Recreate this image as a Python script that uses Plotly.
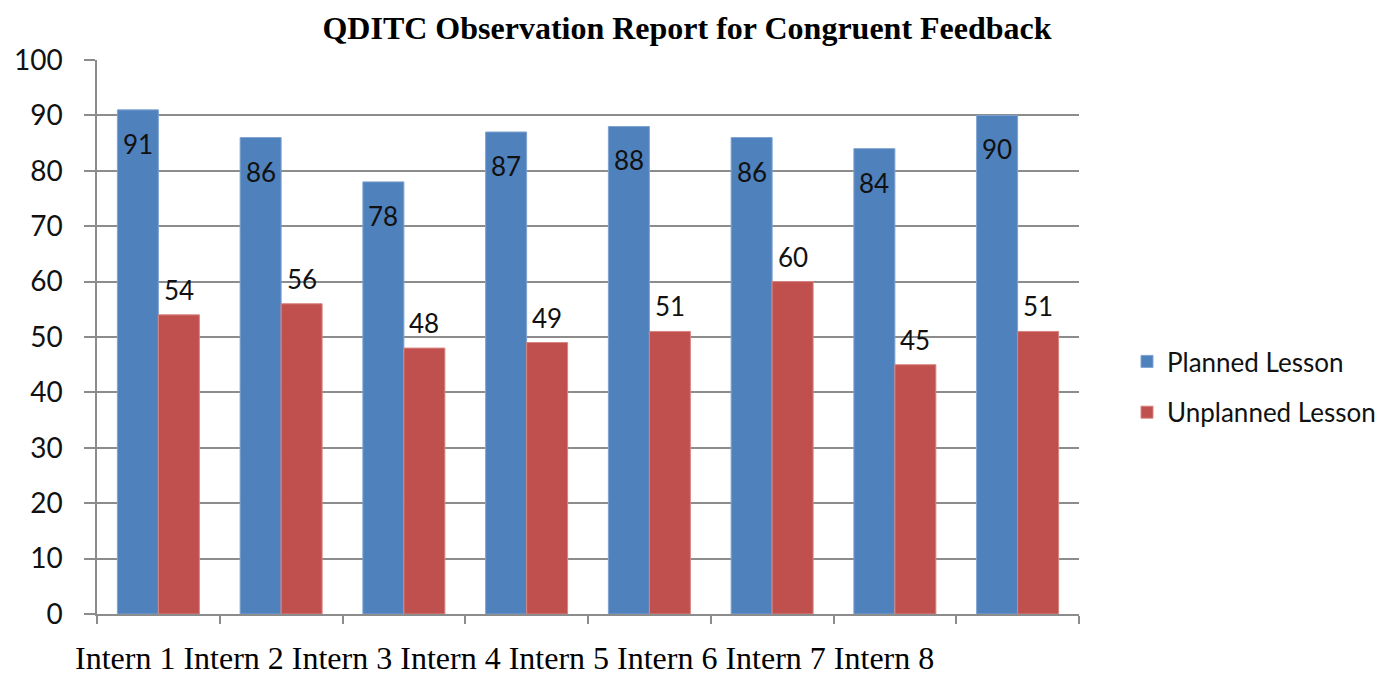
import plotly.graph_objects as go

categories = ["Intern 1", "Intern 2", "Intern 3", "Intern 4", "Intern 5", "Intern 6", "Intern 7", "Intern 8"]
planned = [91, 86, 78, 87, 88, 86, 84, 90]
unplanned = [54, 56, 48, 49, 51, 60, 45, 51]
title_text = "QDITC Observation Report for Congruent Feedback"

BLUE = "#4F81BD"
RED = "#C0504D"
GRID = "#8C8C8C"
LABEL_FONT = "Lato, Calibri, Carlito, sans-serif"
SERIF = "Liberation Serif, Times New Roman, serif"

# page body has an 8px margin; compensate so the plot lands on target pixels
OFF = 8
W, H = 1386, 678
L, R, T, B = 97 - OFF, W - 1079 + OFF, 60 - OFF, H - 614 + OFF
plot_w = W - L - R
plot_h = H - T - B

fig = go.Figure()
fig.add_trace(go.Bar(x=categories, y=planned, name="Planned Lesson",
                     marker=dict(color=BLUE, line=dict(color="#7FA3D0", width=1)),
                     legendgroup="a"))
fig.add_trace(go.Bar(x=categories, y=unplanned, name="Unplanned Lesson",
                     marker=dict(color=RED, line=dict(color="#D98582", width=1)),
                     legendgroup="b"))

annotations = []
for c, p, u in zip(categories, planned, unplanned):
    annotations.append(dict(x=c, y=p, xref="x", yref="y", text=str(p), showarrow=False,
                            xshift=-20.5, yshift=-34, font=dict(family=LABEL_FONT, size=26, color="#111")))
    annotations.append(dict(x=c, y=u, xref="x", yref="y", text=str(u), showarrow=False,
                            xshift=20.5, yshift=25, font=dict(family=LABEL_FONT, size=26, color="#111")))

annotations.append(dict(x=(74 - 97) / plot_w, y=-(677 - 614) / plot_h, xref="paper", yref="paper",
                        xanchor="left", yanchor="bottom", borderpad=0,
                        text=" ".join(categories), showarrow=False,
                        font=dict(family=SERIF, size=32, color="black")))

fig.update_layout(
    width=W, height=H,
    margin=dict(l=L, r=R, t=T, b=B, autoexpand=False),
    plot_bgcolor="white", paper_bgcolor="white",
    bargap=0.332, bargroupgap=0,
    title=dict(text="<b>" + title_text + "</b>", x=(687 - OFF) / W, xanchor="center",
               y=1 - (28 - OFF) / H, yanchor="middle",
               font=dict(family=SERIF, size=32, color="black")),
    legend=dict(x=(1127 - 97) / plot_w, y=0.5 - 50 / plot_h, xanchor="left", yanchor="middle",
                tracegroupgap=14,
                font=dict(family=LABEL_FONT, size=26, color="#111"), bgcolor="rgba(0,0,0,0)"),
    showlegend=True,
    annotations=annotations,
)

fig.update_yaxes(range=[0, 100], dtick=10, showgrid=True, gridcolor=GRID, gridwidth=1.5,
                 showline=True, linecolor=GRID, linewidth=1.5,
                 ticks="outside", ticklen=11, tickcolor=GRID, tickwidth=1.5,
                 ticklabelstandoff=16, automargin=False,
                 tickfont=dict(family=LABEL_FONT, size=28, color="#111"), zeroline=False)
fig.update_xaxes(showticklabels=False, tickson="boundaries", ticks="outside", ticklen=8,
                 tickcolor=GRID, tickwidth=1.5, showline=True, linecolor=GRID, linewidth=1.5,
                 showgrid=False, automargin=False)

fig.write_html("out.html")
